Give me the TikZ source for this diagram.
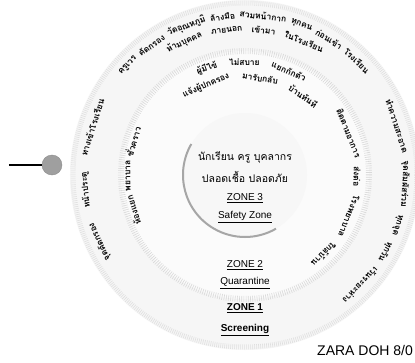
\documentclass[tikz,border=0pt]{standalone}
\usepackage{fontspec}
\setmainfont{Liberation Sans}
\newfontfamily\thaifont[Script=Thai]{Loma}
\usepackage{tikz}

\newlength{\wordwd}
\newlength{\totwd}
\newcommand{\arcfont}{\thaifont\bfseries\fontsize{8.5}{8.5}\selectfont}
\newcommand{\arctext}[4]{%
  \global\totwd=0pt \xdef\wcount{0}%
  \foreach \w in {#4}{%
    \pgfinterruptpicture\settowidth{\wordwd}{\arcfont\w}\global\advance\totwd by\wordwd\endpgfinterruptpicture
    \pgfmathtruncatemacro{\wnext}{\wcount+1}\xdef\wcount{\wnext}%
  }
  \pgfmathsetmacro{\wgap}{(#1/180*pi*(#2-#3)-\totwd)/max(\wcount-1,1)}
  \xdef\curang{#2}%
  \foreach \w in {#4}{%
    \pgfinterruptpicture\settowidth{\wordwd}{\arcfont\w}\global\wordwd=\wordwd\endpgfinterruptpicture
    \pgfmathsetmacro{\ang}{\curang-(\wordwd/2)/#1*180/pi}
    \node[arcword, rotate=\ang-90] at (\ang:#1) {\w};
    \pgfmathsetmacro{\nxt}{\curang-(\wordwd+\wgap)/#1*180/pi}
    \xdef\curang{\nxt}%
  }}

\tikzset{
  arcword/.style={inner sep=0pt, font=\arcfont},
  zonelbl/.style={inner sep=1pt, font=\fontsize{10}{11}\selectfont},
  thaictr/.style={inner sep=1pt, font=\thaifont\fontsize{10.5}{11}\selectfont}
}

\begin{document}
\begin{tikzpicture}[x=1pt, y=1pt, >=stealth]
    \useasboundingbox[fill=white] (-245,-187) rectangle (170,175);
    \fill[gray!7] (0,0) circle (175);
    \draw[gray!25, line width=5pt, dash pattern=on 0.6pt off 1.4pt] (0,0) circle (172);
    \fill[gray!3] (0,0) circle (124);
    \draw[gray!30, line width=6pt, dash pattern=on 0.6pt off 1.6pt] (0,0) circle (124);
    \fill[gray!6] (0,0) circle (62);
    \draw[gray!70, line width=2pt] (150:62) arc[start angle=150, end angle=300, radius=62];

    \arctext{160}{141}{40}{ครูเวร,คัดกรอง,วัดอุณหภูมิ,ล้างมือ,สวมหน้ากาก,ทุกคน,ก่อนเข้า,โรงเรียน}
    \arctext{146}{122}{58}{ห้ามบุคคล,ภายนอก,เข้ามา,ในโรงเรียน}
    \arctext{113}{115}{58}{ผู้มีไข้,ไม่สบาย,แยกกักตัว}
    \arctext{98}{128}{44}{แจ้งผู้ปกครอง,มารับกลับ,บ้านทันที}
    \arctext{160}{212}{152}{จุดคัดกรอง,หน้าประตู,ทางเข้าโรงเรียน}
    \arctext{117}{205}{156}{ห้องแยก,พยาบาล,ชั่วคราว}
    \arctext{112}{35}{-53}{ติดตามอาการ,ส่งต่อ,โรงพยาบาล,ใกล้บ้าน}
    \arctext{160}{28}{-52}{ทำความสะอาด,จุดสัมผัสร่วม,ทุกจุด,ทุกวัน,เว้นระยะห่าง}

    \node[thaictr] (pupils) at (0,18) {นักเรียน ครู บุคลากร};
    \node[thaictr] (safe) at (0,-2) {ปลอดเชื้อ ปลอดภัย};
    \node[zonelbl] (z3) at (0,-23) {\underline{ZONE 3}};
    \node[zonelbl] (z3name) at (0,-42) {\underline{Safety Zone}};
    \node[zonelbl] (z2) at (0,-90) {\underline{ZONE 2}};
    \node[zonelbl] (z2name) at (0,-108) {\underline{Quarantine}};
    \node[zonelbl] (z1) at (0,-133) {\underline{\textbf{ZONE 1}}};
    \node[zonelbl] (z1name) at (0,-155) {\underline{\textbf{Screening}}};

    \node[circle, fill=gray!75, draw=gray!90, minimum size=20pt, inner sep=0pt] (pin) at (-193,10) {};
    \coordinate (pinend) at (-236,10);
    \draw[line width=1.6pt] (pinend) -- (pin);

    \node[anchor=west, inner sep=0pt, font=\fontsize{14}{14}\selectfont] (credit) at (72,-175) {ZARA DOH 8/0};
\end{tikzpicture}
\end{document}
